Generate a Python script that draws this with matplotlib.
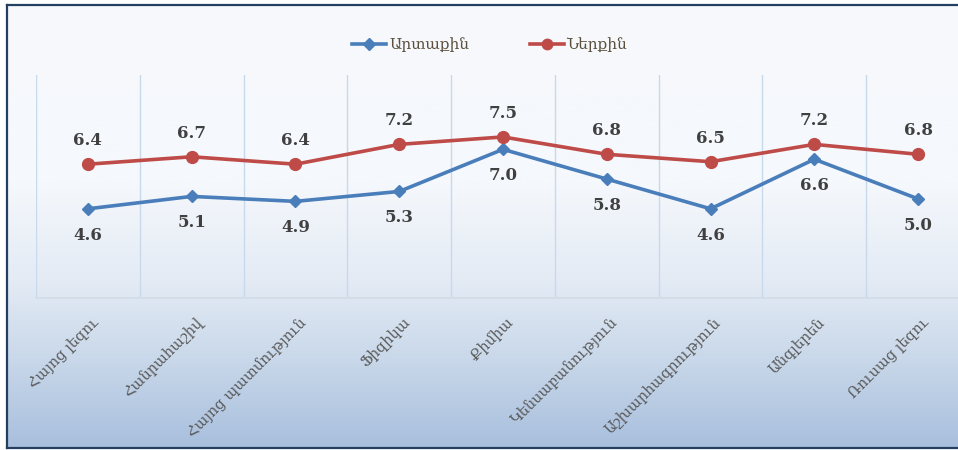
import matplotlib
matplotlib.use("Agg")
import matplotlib.pyplot as plt
import numpy as np
from matplotlib.lines import Line2D

categories = ["Հայոց լեզու", "Հանրահաշիվ", "Հայոց պատմություն", "Ֆիզիկա", "Քիմիա",
              "Կենսաբանություն", "Աշխարհագրություն", "Անգլերեն", "Ռուսաց լեզու"]
external = [4.6, 5.1, 4.9, 5.3, 7.0, 5.8, 4.6, 6.6, 5.0]
internal = [6.4, 6.7, 6.4, 7.2, 7.5, 6.8, 6.5, 7.2, 6.8]
series_names = ["Արտաքին", "Ներքին"]

W, H = 958, 450
fig = plt.figure(figsize=(W / 100, H / 100), dpi=100)
fig.patch.set_facecolor("white")

# background gradient inside the frame (extends past the right edge)
bg = fig.add_axes([7 / W, 2 / H, 1.05 - 7 / W, 1 - 7 / H])
bg.set_axis_off()
stops = np.array([0.0, 0.40, 0.62, 0.80, 1.0])
cols = np.array([[247, 249, 252], [245, 248, 252], [228, 235, 245], [201, 216, 234], [168, 191, 221]]) / 255
t = np.linspace(0, 1, 256)
grad = np.stack([np.interp(t, stops, cols[:, i]) for i in range(3)], axis=1)
bg.imshow(grad[:, None, :], aspect="auto", extent=[0, 1, 0, 1], origin="upper")
bg.set_xlim(0, 1)
bg.set_ylim(0, 1)

# frame: top, left, bottom only (right edge is cut off)
x0, y0, y1 = 7 / W, 2 / H, 1 - 5 / H
for xs, ys in [([x0, 1.1], [y1, y1]), ([x0, x0], [y0, y1]), ([x0, 1.1], [y0, y0])]:
    fig.add_artist(Line2D(xs, ys, transform=fig.transFigure, color="#243F60",
                          linewidth=1.6, zorder=10))

ax = fig.add_axes([36 / W, 1 - 298 / H, (970 - 36) / W, (298 - 75) / H])
ax.patch.set_alpha(0)
x = np.arange(len(categories))
ax.set_xlim(-0.5, len(categories) - 0.5)
ax.set_ylim(1, 10)
for b in np.arange(-0.5, len(categories) + 0.5, 1.0):
    ax.axvline(b, color="#C9D9EC", linewidth=1.0, zorder=1)
for s in ["top", "right", "left"]:
    ax.spines[s].set_visible(False)
ax.spines["bottom"].set_color("#D3DBE6")
ax.spines["bottom"].set_linewidth(1.2)
ax.set_yticks([])
ax.set_xticks(x)
ax.tick_params(axis="x", length=0, pad=2)
ax.set_xticklabels([])

blue = "#4A7EBB"
red = "#BE4B48"
ax.plot(x, external, color=blue, linewidth=2.6, marker="D", markersize=6.5, zorder=3)
ax.plot(x, internal, color=red, linewidth=2.6, marker="o", markersize=8.5, zorder=3)

for xi, v in zip(x, external):
    ax.annotate(f"{v:.1f}", (xi, v), xytext=(0, -19), textcoords="offset points",
                ha="center", va="center", fontsize=12, fontweight="bold",
                family="DejaVu Serif", color="#404040")
for xi, v in zip(x, internal):
    ax.annotate(f"{v:.1f}", (xi, v), xytext=(0, 17), textcoords="offset points",
                ha="center", va="center", fontsize=12, fontweight="bold",
                family="DejaVu Serif", color="#404040")

for xi, lab in zip(x, categories):
    ax.annotate(lab, (xi, 1), xytext=(6, -16), textcoords="offset points",
                ha="right", va="center", rotation=45, rotation_mode="anchor",
                fontsize=10.5, family="DejaVu Serif", color="#595959")

handles = [Line2D([], [], color=blue, linewidth=2.6, marker="D", markersize=6),
           Line2D([], [], color=red, linewidth=2.6, marker="o", markersize=7.5)]
fig.legend(handles, series_names, loc="center", bbox_to_anchor=(490 / W, 1 - 45 / H),
           ncol=2, frameon=False, handlelength=2.2, handletextpad=0.2, columnspacing=4.0,
           prop={"family": "DejaVu Serif", "size": 11}, labelcolor="#5A4E3C")

fig.savefig("out.png", dpi=100)
